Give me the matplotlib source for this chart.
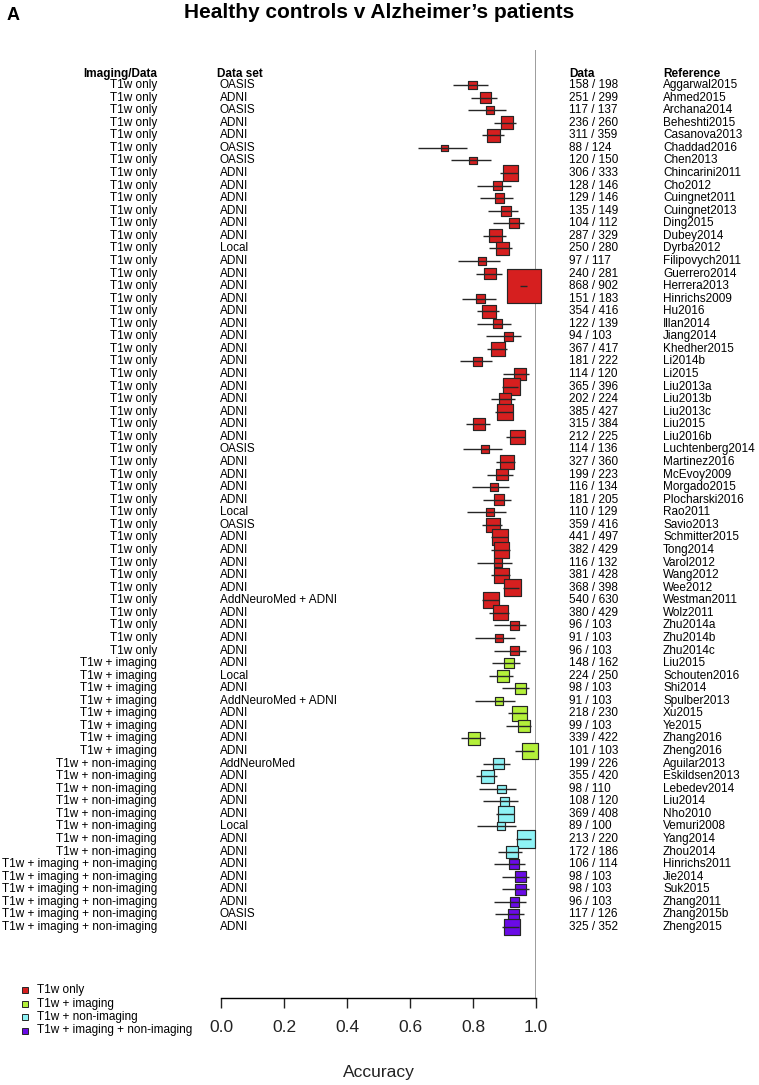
import matplotlib
matplotlib.use("Agg")
import matplotlib.pyplot as plt
import matplotlib.transforms as mtransforms
from matplotlib.lines import Line2D
import numpy as np

plt.rcParams['font.family'] = ['Liberation Sans', 'DejaVu Sans']

# Data
imaging = (["T1w only"] * 46 + ["T1w + imaging"] * 8 + ["T1w + non-imaging"] * 8
           + ["T1w + imaging + non-imaging"] * 6)

dataset = ["OASIS", "ADNI", "OASIS", "ADNI", "ADNI", "OASIS", "OASIS", "ADNI", "ADNI", "ADNI",
           "ADNI", "ADNI", "ADNI", "Local", "ADNI", "ADNI", "ADNI", "ADNI", "ADNI", "ADNI",
           "ADNI", "ADNI", "ADNI", "ADNI", "ADNI", "ADNI", "ADNI", "ADNI", "ADNI", "OASIS",
           "ADNI", "ADNI", "ADNI", "ADNI", "Local", "OASIS", "ADNI", "ADNI", "ADNI", "ADNI",
           "ADNI", "AddNeuroMed + ADNI", "ADNI", "ADNI", "ADNI", "ADNI",
           "ADNI", "Local", "ADNI", "AddNeuroMed + ADNI", "ADNI", "ADNI", "ADNI", "ADNI",
           "AddNeuroMed", "ADNI", "ADNI", "ADNI", "ADNI", "Local", "ADNI", "ADNI",
           "ADNI", "ADNI", "ADNI", "ADNI", "OASIS", "ADNI"]

correct = [158, 251, 117, 236, 311, 88, 120, 306, 128, 129, 135, 104, 287, 250, 97, 240, 868,
           151, 354, 122, 94, 367, 181, 114, 365, 202, 385, 315, 212, 114, 327, 199, 116, 181,
           110, 359, 441, 382, 116, 381, 368, 540, 380, 96, 91, 96,
           148, 224, 98, 91, 218, 99, 339, 101,
           199, 355, 98, 108, 369, 89, 213, 172,
           106, 98, 98, 96, 117, 325]

total = [198, 299, 137, 260, 359, 124, 150, 333, 146, 146, 149, 112, 329, 280, 117, 281, 902,
         183, 416, 139, 103, 417, 222, 120, 396, 224, 427, 384, 225, 136, 360, 223, 134, 205,
         129, 416, 497, 429, 132, 428, 398, 630, 429, 103, 103, 103,
         162, 250, 103, 103, 230, 103, 422, 103,
         226, 420, 110, 120, 408, 100, 220, 186,
         114, 103, 103, 103, 126, 352]

reference = ["Aggarwal2015", "Ahmed2015", "Archana2014", "Beheshti2015", "Casanova2013",
             "Chaddad2016", "Chen2013", "Chincarini2011", "Cho2012", "Cuingnet2011",
             "Cuingnet2013", "Ding2015", "Dubey2014", "Dyrba2012", "Filipovych2011",
             "Guerrero2014", "Herrera2013", "Hinrichs2009", "Hu2016", "Illan2014",
             "Jiang2014", "Khedher2015", "Li2014b", "Li2015", "Liu2013a", "Liu2013b",
             "Liu2013c", "Liu2015", "Liu2016b", "Luchtenberg2014", "Martinez2016",
             "McEvoy2009", "Morgado2015", "Plocharski2016", "Rao2011", "Savio2013",
             "Schmitter2015", "Tong2014", "Varol2012", "Wang2012", "Wee2012", "Westman2011",
             "Wolz2011", "Zhu2014a", "Zhu2014b", "Zhu2014c",
             "Liu2015", "Schouten2016", "Shi2014", "Spulber2013", "Xu2015", "Ye2015",
             "Zhang2016", "Zheng2016",
             "Aguilar2013", "Eskildsen2013", "Lebedev2014", "Liu2014", "Nho2010",
             "Vemuri2008", "Yang2014", "Zhou2014",
             "Hinrichs2011", "Jie2014", "Suk2015", "Zhang2011", "Zhang2015b", "Zheng2015"]

accuracy = [0.798, 0.839, 0.854, 0.908, 0.866, 0.710, 0.800, 0.919, 0.877, 0.884,
            0.906, 0.929, 0.872, 0.893, 0.829, 0.854, 0.962, 0.825, 0.851, 0.878,
            0.913, 0.880, 0.815, 0.950, 0.922, 0.902, 0.902, 0.820, 0.942, 0.838,
            0.908, 0.892, 0.866, 0.883, 0.853, 0.863, 0.887, 0.890, 0.879, 0.890,
            0.925, 0.857, 0.886, 0.932, 0.883, 0.932,
            0.914, 0.896, 0.951, 0.883, 0.948, 0.961, 0.803, 0.981,
            0.881, 0.845, 0.891, 0.900, 0.904, 0.890, 0.968, 0.925,
            0.930, 0.951, 0.951, 0.932, 0.929, 0.923]

ci_low = [0.737, 0.794, 0.785, 0.866, 0.827, 0.625, 0.729, 0.885, 0.814, 0.821,
          0.848, 0.865, 0.832, 0.851, 0.751, 0.808, 0.948, 0.764, 0.813, 0.813,
          0.842, 0.845, 0.759, 0.895, 0.891, 0.856, 0.870, 0.779, 0.904, 0.767,
          0.874, 0.845, 0.798, 0.832, 0.781, 0.827, 0.857, 0.857, 0.812, 0.857,
          0.894, 0.828, 0.852, 0.866, 0.807, 0.866,
          0.860, 0.852, 0.891, 0.807, 0.911, 0.904, 0.763, 0.932,
          0.832, 0.808, 0.819, 0.833, 0.872, 0.814, 0.936, 0.878,
          0.868, 0.891, 0.891, 0.866, 0.870, 0.891]

ci_high = [0.848, 0.877, 0.904, 0.937, 0.898, 0.782, 0.856, 0.944, 0.921, 0.926,
           0.943, 0.963, 0.904, 0.924, 0.887, 0.891, 0.973, 0.873, 0.882, 0.922,
           0.953, 0.908, 0.861, 0.977, 0.944, 0.934, 0.926, 0.855, 0.966, 0.891,
           0.934, 0.927, 0.913, 0.920, 0.904, 0.893, 0.912, 0.917, 0.924, 0.916,
           0.947, 0.882, 0.913, 0.967, 0.932, 0.967,
           0.948, 0.928, 0.979, 0.932, 0.970, 0.985, 0.838, 0.995,
           0.917, 0.877, 0.936, 0.942, 0.929, 0.937, 0.985, 0.955,
           0.964, 0.979, 0.979, 0.967, 0.962, 0.947]

categories = ["T1w only", "T1w + imaging", "T1w + non-imaging", "T1w + imaging + non-imaging"]
cat_colors = {"T1w only": "#D61F1F", "T1w + imaging": "#B4F03A",
              "T1w + non-imaging": "#8EF2F5", "T1w + imaging + non-imaging": "#6A0BE6"}

W, H = 759, 1085
fig = plt.figure(figsize=(W / 100, H / 100), dpi=100)

# plot area: x=0 at 221px, x=1 at 536px; from y=50px down to the axis at 998px
ax = fig.add_axes([221 / W, 1 - 998 / H, 315 / W, 948 / H])
n_rows = len(reference)
row_step = (927 - 85) / (n_rows - 1)
ax.set_ylim((998 - 85) / row_step, (50 - 85) / row_step)
ax.set_xlim(0, 1)

rows = np.arange(n_rows)
acc = np.array(accuracy)
n = np.array(total)
se = np.sqrt(acc * (1 - acc) / n)
side_px = 1.5 + 0.205 / se
colors = [cat_colors[g] for g in imaging]

ax.axvline(1.0, color="#8C8C8C", lw=1.2, zorder=1)
ax.scatter(acc, rows, marker="s", s=(side_px * 0.72) ** 2, c=colors,
           edgecolors="#262626", linewidths=0.85, zorder=2, clip_on=False)
ax.hlines(rows, ci_low, ci_high, color="#262626", lw=1.0, zorder=3, clip_on=False)

for side in ["top", "left", "right"]:
    ax.spines[side].set_visible(False)
ax.spines["bottom"].set_bounds(0, 1)
ax.spines["bottom"].set_linewidth(1.0)
ax.set_yticks([])
ax.set_xticks([0, 0.2, 0.4, 0.6, 0.8, 1.0])
ax.set_xticklabels(["0.0", "0.2", "0.4", "0.6", "0.8", "1.0"])
ax.tick_params(axis="x", direction="out", length=7, width=1.0, pad=9, labelsize=12.5,
               colors="#222222")
ax.patch.set_visible(False)

# text columns
tr = mtransforms.blended_transform_factory(fig.transFigure, ax.transData)
fs = 8.5
head_y = (74 - 85) / row_step
fig.text(157 / W, head_y, "Imaging/Data", transform=tr, ha="right", va="center",
         fontsize=fs, fontweight="bold")
fig.text(217 / W, head_y, "Data set", transform=tr, ha="left", va="center",
         fontsize=fs, fontweight="bold")
fig.text(569 / W, head_y, "Data", transform=tr, ha="left", va="center",
         fontsize=fs, fontweight="bold")
fig.text(663 / W, head_y, "Reference", transform=tr, ha="left", va="center",
         fontsize=fs, fontweight="bold")

for i in range(n_rows):
    fig.text(157 / W, i, imaging[i], transform=tr, ha="right", va="center", fontsize=fs)
    fig.text(220 / W, i, dataset[i], transform=tr, ha="left", va="center", fontsize=fs)
    fig.text(569 / W, i, f"{correct[i]} / {total[i]}", transform=tr, ha="left",
             va="center", fontsize=fs)
    fig.text(663 / W, i, reference[i], transform=tr, ha="left", va="center", fontsize=fs)

# legend
for k, cat in enumerate(categories):
    y = 1 - (990 + k * 13.5) / H
    fig.add_artist(Line2D([25 / W], [y], transform=fig.transFigure, marker="s",
                          markersize=4.4, markerfacecolor=cat_colors[cat],
                          markeredgecolor="#262626", markeredgewidth=0.7, ls=""))
    fig.text(37 / W, y, cat, ha="left", va="center", fontsize=fs)

fig.text(378.5 / W, 1 - 1073 / H, "Accuracy", ha="center", va="center", fontsize=12.5,
         color="#222222")
fig.text(379 / W, 1 - 12 / H, "Healthy controls v Alzheimer\u2019s patients", ha="center",
         va="center", fontsize=15, fontweight="bold")
fig.text(7 / W, 1 - 16 / H, "A", ha="left", va="center", fontsize=13, fontweight="bold")

fig.savefig("out.png", dpi=100)
